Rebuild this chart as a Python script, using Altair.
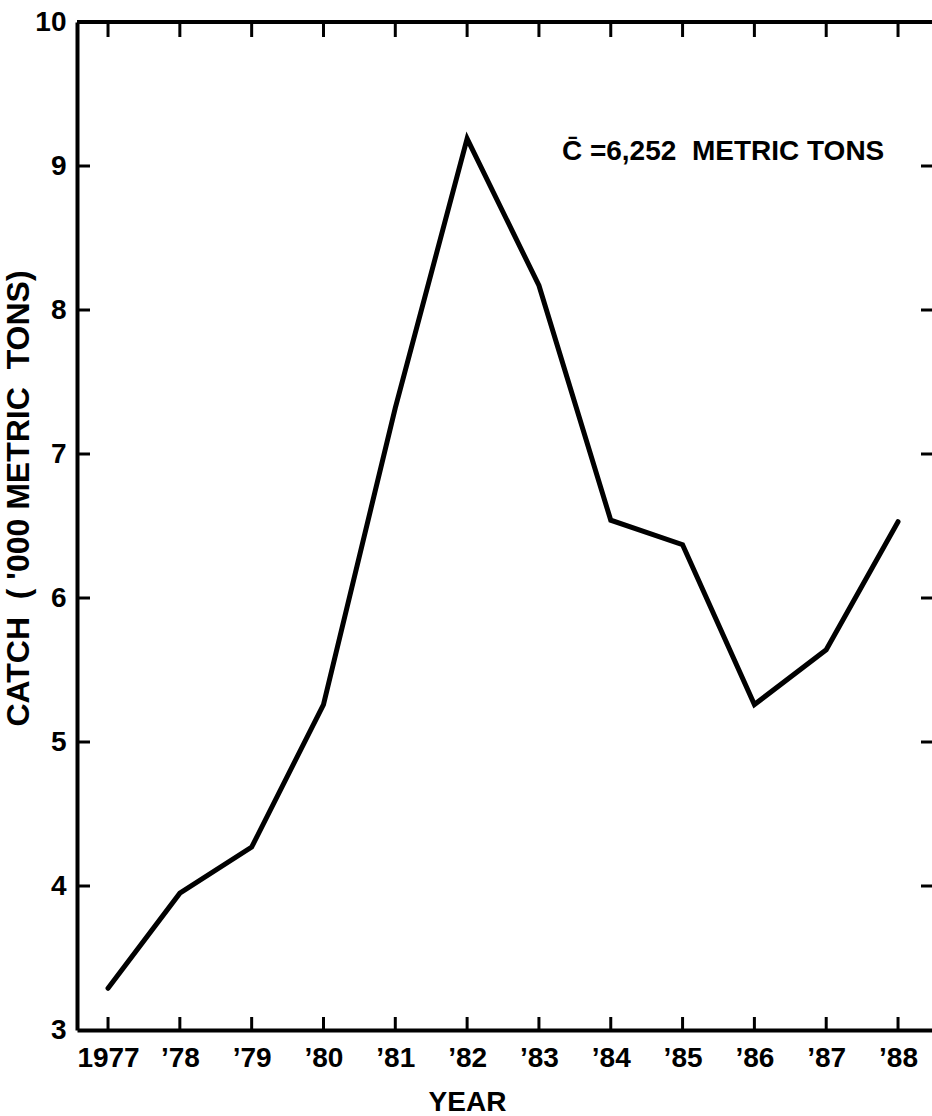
import altair as alt
import pandas as pd

# ---- data ----
years = [1977, 1978, 1979, 1980, 1981, 1982, 1983, 1984, 1985, 1986, 1987, 1988]
catch = [3.29, 3.95, 4.27, 5.26, 7.32, 9.19, 8.17, 6.54, 6.37, 5.26, 5.64, 6.53]
year_labels = ["1977", "’78", "’79", "’80", "’81", "’82", "’83", "’84", "’85", "’86", "’87", "’88"]
y_ticks = [3, 4, 5, 6, 7, 8, 9, 10]
inner_y_ticks = [4, 5, 6, 7, 8, 9]
top_value = [10]
note_text = ["C\u0304 =6,252\u00a0 METRIC TONS"]
note_year = [1983.32]
note_value = [9.04]

W, H = 855, 1008
FONT = "Liberation Sans"

label_expr = " : ".join(
    f"datum.value == {y} ? '{l}'" for y, l in zip(years, year_labels)
) + " : ''"

xscale = alt.Scale(domain=[1976.568, 1988.473], nice=False, zero=False)
yscale = alt.Scale(domain=[3, 10], nice=False, zero=False)

X = alt.X(
    "year:Q",
    scale=xscale,
    axis=alt.Axis(
        values=years,
        labelExpr=label_expr,
        title="YEAR",
        titleX=390,
        titleY=80,
        titleBaseline="alphabetic",
        titleAnchor="start",
        titleAlign="center",
        labelPadding=14,
        labelFlush=False,
        labelOverlap=False,
        grid=False,
        ticks=False,
    ),
)
Y = alt.Y(
    "value:Q",
    scale=yscale,
    axis=alt.Axis(
        values=y_ticks,
        title="CATCH\u00a0\u00a0(\u00a0'000 METRIC\u00a0\u00a0TONS)",
        titleX=-42,
        titleY=476,
        titleAlign="center",
        titleAngle=270,
        titleFontSize=32,
        labelPadding=11,
        labelOverlap=False,
        grid=False,
        ticks=False,
    ),
)

df = pd.DataFrame({"year": years, "value": catch})
df_years = pd.DataFrame({"year": years})
df_inner = pd.DataFrame({"value": inner_y_ticks})
df_top = pd.DataFrame({"value": top_value})
df_note = pd.DataFrame({"year": note_year, "value": note_value, "text": note_text})

line = alt.Chart(df).mark_line(
    color="black", strokeWidth=5, strokeJoin="miter", strokeCap="round"
).encode(x=X, y=Y)

top_line = alt.Chart(df_top).mark_rule(color="black", strokeWidth=4).encode(
    y=Y, x=alt.value(0), x2=alt.value(W)
)
top_ticks = alt.Chart(df_years).mark_rule(color="black", strokeWidth=3).encode(
    x=X, y=alt.value(0), y2=alt.value(15)
)
bottom_ticks = alt.Chart(df_years).mark_rule(color="black", strokeWidth=3).encode(
    x=X, y=alt.value(H - 13), y2=alt.value(H)
)
left_ticks = alt.Chart(df_inner).mark_rule(color="black", strokeWidth=3).encode(
    y=Y, x=alt.value(0), x2=alt.value(13)
)
right_ticks = alt.Chart(df_inner).mark_rule(color="black", strokeWidth=3).encode(
    y=Y, x=alt.value(W - 11), x2=alt.value(W)
)
note = alt.Chart(df_note).mark_text(
    align="left", baseline="alphabetic", font=FONT, fontWeight="bold",
    fontSize=28, color="black"
).encode(x=X, y=Y, text="text:N")

chart = (
    alt.layer(line, top_line, top_ticks, bottom_ticks, left_ticks, right_ticks, note)
    .properties(
        width=W,
        height=H,
        autosize=alt.AutoSizeParams(type="none"),
        padding={"left": 77, "top": 22, "right": 0, "bottom": 86},
        background="white",
    )
    .configure_view(stroke=None)
    .configure_axis(
        domainColor="black",
        domainWidth=4,
        labelColor="black",
        labelFont=FONT,
        labelFontWeight="bold",
        labelFontSize=28,
        titleColor="black",
        titleFont=FONT,
        titleFontWeight="bold",
        titleFontSize=28,
    )
)

chart.save("out.html", embed_options={"renderer": "svg", "actions": False})
